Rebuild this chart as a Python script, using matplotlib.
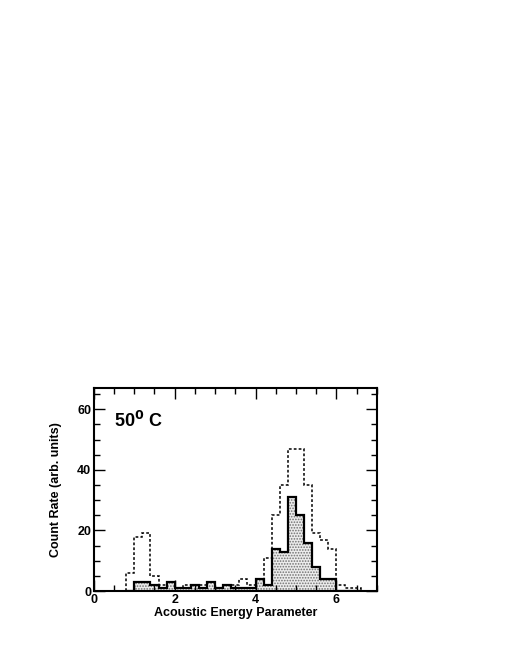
import numpy as np
import matplotlib
matplotlib.use("Agg")
import matplotlib.pyplot as plt
from matplotlib.ticker import MultipleLocator

plt.rcParams['font.family'] = ['Liberation Sans', 'DejaVu Sans']
plt.rcParams['hatch.color'] = '#707070'
plt.rcParams['hatch.linewidth'] = 0.8

# histogram bins (width 0.2) from 0.8 to 6.6
bin_edges = [0.8, 1.0, 1.2, 1.4, 1.6, 1.8, 2.0, 2.2, 2.4, 2.6, 2.8, 3.0, 3.2, 3.4, 3.6,
             3.8, 4.0, 4.2, 4.4, 4.6, 4.8, 5.0, 5.2, 5.4, 5.6, 5.8, 6.0, 6.2, 6.4, 6.6]
# filled histogram (solid outline)
counts_solid = [0, 3, 3, 2, 1, 3, 1, 1, 2, 1, 3, 1, 2, 1, 1,
                1, 4, 2, 14, 13, 31, 25, 16, 8, 4, 4, 0, 0, 0]
# dashed histogram
counts_dashed = [6, 18, 19, 5, 2, 3, 1, 2, 2, 2, 3, 1, 2, 2, 4,
                 2, 4, 11, 25, 35, 47, 47, 35, 19, 17, 14, 2, 1, 1]

fig = plt.figure(figsize=(5.1, 6.6), dpi=100)
ax = fig.add_axes([0.184, 0.1045, 0.555, 0.3075])

ax.stairs(counts_solid, bin_edges, fill=True, facecolor='#ececec', edgecolor='#707070',
          hatch='......', linewidth=0)
ax.stairs(counts_solid, bin_edges, color='black', linewidth=1.6, baseline=0)
ax.stairs(counts_dashed, bin_edges, color='black', linewidth=1.1,
          linestyle=(0, (1.8, 1.4)), baseline=0)

ax.set_xlim(0, 7)
ax.set_ylim(0, 67)
ax.xaxis.set_major_locator(MultipleLocator(2))
ax.xaxis.set_minor_locator(MultipleLocator(0.5))
ax.yaxis.set_major_locator(MultipleLocator(20))
ax.yaxis.set_minor_locator(MultipleLocator(5))
ax.tick_params(which='both', direction='in', top=True, right=True)
ax.tick_params(which='major', length=8, width=1)
ax.tick_params(which='minor', length=4, width=1)
ax.tick_params(axis='both', labelsize=9, pad=2)
for lbl in ax.get_xticklabels() + ax.get_yticklabels():
    lbl.set_fontweight('bold')
for sp in ax.spines.values():
    sp.set_linewidth(1.5)

ax.set_xlabel('Acoustic Energy Parameter', fontsize=9, fontweight='bold', labelpad=1)
ax.set_ylabel('Count Rate (arb. units)', fontsize=9, fontweight='bold', labelpad=11)

ax.text(0.07, 0.84, r'50$^{\mathbf{0}}$ C', transform=ax.transAxes, fontsize=13,
        fontweight='bold', va='center', ha='left')

fig.savefig('out.png', dpi=100)
